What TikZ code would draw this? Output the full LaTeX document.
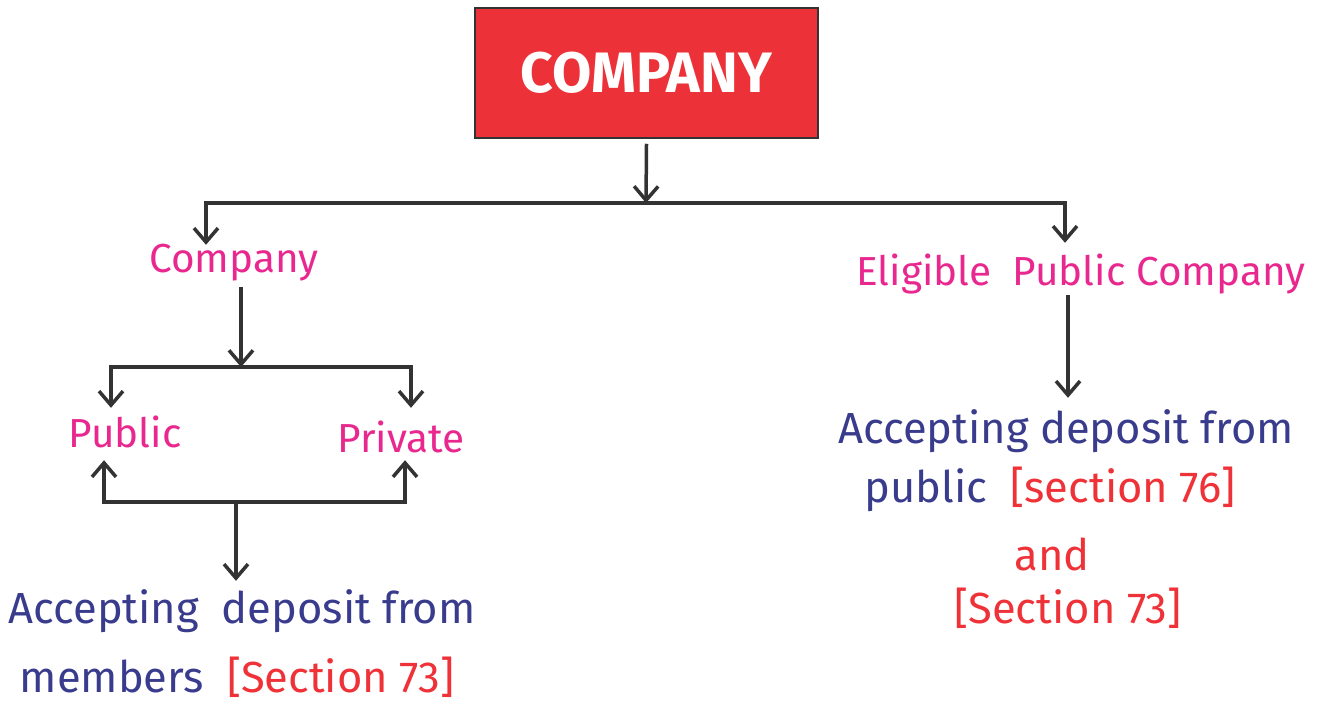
\documentclass[tikz,border=0pt]{standalone}
\usepackage{fontspec}
\setmainfont{Fira Sans}
\usetikzlibrary{positioning, arrows.meta}

\definecolor{boxred}{HTML}{EC3238}
\definecolor{kindpink}{HTML}{E9288F}
\definecolor{noteblue}{HTML}{393B8D}
\definecolor{secred}{HTML}{EE3238}
\definecolor{linegray}{HTML}{333333}

\begin{document}
\begin{tikzpicture}[x=1pt, y=-1pt]
        % Define styles for shapes
        \tikzstyle{headbox} = [draw=linegray, line width=1.5pt, fill=boxred, minimum width=343pt, minimum height=130pt, text=white, font=\fontsize{57}{60}\selectfont\bfseries]
        \tikzstyle{kind} = [text=kindpink, inner sep=0pt, text height=30pt, text depth=10pt, font=\fontsize{40.5}{44}\selectfont]
        \tikzstyle{note} = [text=noteblue, inner sep=0pt, text height=30pt, text depth=10pt, font=\fontsize{43.5}{47}\selectfont]
        \tikzstyle{link} = [draw=linegray, line width=3.5pt, -{Straight Barb[length=14pt, width=24pt]}]
        \useasboundingbox (0,0) rectangle (1321,704);

        % Draw shapes
        \node[headbox] (head) at (646.5, 73) {COMPANY};
        \node[kind, anchor=base] (comp) at (234, 272) {Company};
        \node[kind, anchor=base] (elig) at (1081, 285) {Eligible\ \ Public Company};
        \node[kind, anchor=base] (pub) at (125, 447) {Public};
        \node[kind, anchor=base] (priv) at (401, 452) {Private};
        \node[note, anchor=base] (memA) at (242, 623) {Accepting\ \ deposit from};
        \node[note, anchor=base] (memB) at (237, 692) {members\ \ \textcolor{secred}{[Section 73]}};
        \node[note, anchor=base] (pubA) at (1066, 443) {Accepting deposit from};
        \node[note, anchor=base] (pubB) at (1050, 502) {public\ \ \textcolor{secred}{[section 76]}};
        \node[note, anchor=base, text=secred] (pubC) at (1052, 570) {and};
        \node[note, anchor=base, text=secred] (pubD) at (1068, 623) {[Section 73]};

        % Branch points
        \coordinate (split) at (646, 203);
        \coordinate (lsplit) at (241, 367);
        \coordinate (msplit) at (236, 502);

        % Draw arrows
        \draw[link] ([yshift=-5pt]head.south) -- (split);
        \draw[link] (split) -| ([xshift=-28pt, yshift=-3pt]comp.north);
        \draw[link] (split) -| ([xshift=-16pt, yshift=12pt]elig.north);
        \draw[link] ([xshift=7pt, yshift=-5pt]comp.south) -- (lsplit);
        \draw[link] (lsplit) -| ([xshift=-14pt, yshift=9pt]pub.north);
        \draw[link] (lsplit) -| ([xshift=10pt, yshift=14pt]priv.north);
        \draw[link] (msplit) -| ([xshift=-21pt, yshift=-3pt]pub.south);
        \draw[link] (msplit) -| ([xshift=4pt, yshift=2pt]priv.south);
        \draw[link] (msplit) -- ([xshift=-6pt, yshift=12pt]memA.north);
        \draw[link] ([xshift=-13pt]elig.south) -- ([xshift=2pt, yshift=15pt]pubA.north);
\end{tikzpicture}
\end{document}
